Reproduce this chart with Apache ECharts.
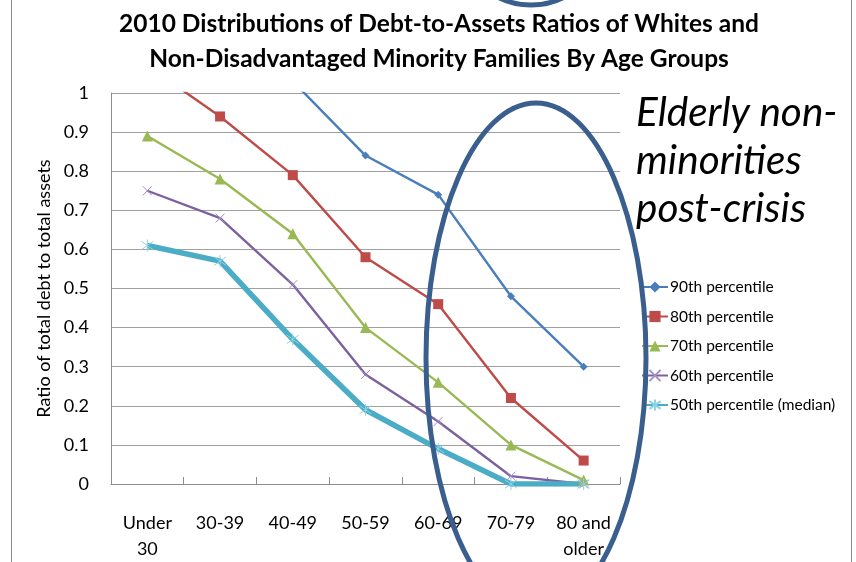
<!DOCTYPE html>
<html>
<head>
<meta charset="utf-8">
<script src="https://cdn.jsdelivr.net/npm/echarts@6/dist/echarts.min.js"></script>
<style>
  html, body { margin: 0; padding: 0; background: #fff; overflow: hidden; }
  #chart { width: 856px; height: 562px; }
</style>
</head>
<body>
<div id="chart"></div>
<script>
// Age groups on the category axis
const ageGroups = ['Under\n30', '30-39', '40-49', '50-59', '60-69', '70-79', '80 and\nolder'];

// Debt-to-assets ratio by percentile (values above 1 run off the top of the plot)
const p90 = [1.30, 1.14, 1.03, 0.84, 0.74, 0.48, 0.30];
const p80 = [1.07, 0.94, 0.79, 0.58, 0.46, 0.22, 0.06];
const p70 = [0.89, 0.78, 0.64, 0.40, 0.26, 0.10, 0.01];
const p60 = [0.75, 0.68, 0.51, 0.28, 0.16, 0.02, 0.00];
const p50 = [0.61, 0.57, 0.37, 0.19, 0.09, 0.00, 0.00];

const seriesNames = ['90th percentile', '80th percentile', '70th percentile', '60th percentile', '50th percentile (median)'];
const yTicks = [0, 0.1, 0.2, 0.3, 0.4, 0.5, 0.6, 0.7, 0.8, 0.9, 1];

const FONT = 'Lato';

// stroked marker shapes
const crossPath = 'path://M0,0L10,10M10,0L0,10';
const starPath = 'path://M5,0L5,10M0,1.5L10,8.5M10,1.5L0,8.5';

function lineSeries(name, data, color, symbol, size, width, markColor, border) {
  return {
    name: name,
    type: 'line',
    data: data,
    clip: true,
    symbol: symbol,
    symbolSize: size,
    showAllSymbol: true,
    lineStyle: { color: color, width: width },
    itemStyle: { color: markColor || color, borderColor: markColor || color, borderWidth: border || 0 },
    emphasis: { disabled: true }
  };
}

const chart = echarts.init(document.getElementById('chart'), null, { renderer: 'canvas' });

chart.setOption({
  animation: false,
  backgroundColor: '#ffffff',
  title: {
    text: '2010 Distributions of Debt-to-Assets Ratios of Whites and\nNon-Disadvantaged Minority Families By Age Groups',
    left: 434,
    top: 2,
    textAlign: 'center',
    textStyle: { fontFamily: FONT, fontWeight: 'bold', fontSize: 24.5, lineHeight: 35, color: '#000' }
  },
  grid: { left: 111, width: 509, top: 93, height: 396, containLabel: false },
  legend: {
    orient: 'vertical',
    left: 636,
    top: 274,
    itemWidth: 26,
    itemHeight: 14,
    itemGap: 13.5,
    textStyle: { fontFamily: FONT, fontSize: 15.5, lineHeight: 14, color: '#000', padding: [0, 0, 0, -3] },
    data: seriesNames
  },
  xAxis: {
    type: 'category',
    data: ageGroups,
    boundaryGap: true,
    axisLine: { lineStyle: { color: '#8c8c8c', width: 1 } },
    axisTick: { show: true, inside: true, length: 7, lineStyle: { color: '#8c8c8c' } },
    axisLabel: { fontFamily: FONT, fontSize: 18, color: '#000', margin: 26, lineHeight: 26, interval: 0 },
    splitLine: { show: false }
  },
  yAxis: {
    type: 'value',
    min: 0,
    max: 1,
    interval: 0.1,
    name: 'Ratio of total debt to total assets',
    nameLocation: 'middle',
    nameGap: 58,
    nameTextStyle: { fontFamily: FONT, fontSize: 18, color: '#000' },
    axisLine: { show: true, lineStyle: { color: '#8c8c8c', width: 1 } },
    axisTick: { show: false },
    axisLabel: {
      fontFamily: FONT, fontSize: 18, color: '#000', margin: 22,
      formatter: function (v) {
        const t = yTicks.find(function (k) { return Math.abs(k - v) < 1e-9; });
        return t === undefined ? '' : String(t);
      }
    },
    splitLine: { show: true, lineStyle: { color: '#a0a0a0', width: 1 } }
  },
  series: [
    lineSeries(seriesNames[0], p90, '#4a7ebb', 'diamond', 8, 2.4),
    lineSeries(seriesNames[1], p80, '#be4b48', 'rect', 10, 2.4),
    lineSeries(seriesNames[2], p70, '#98b954', 'triangle', 11, 2.4),
    lineSeries(seriesNames[3], p60, '#7d60a0', crossPath, 9, 2.4, '#a48fc2', 1),
    lineSeries(seriesNames[4], p50, '#4bacc6', starPath, 12, 5.5, '#8fd3e6', 1)
  ],
  graphic: [
    // outer frame of the chart area
    { type: 'line', shape: { x1: 11.5, y1: 0, x2: 11.5, y2: 562 }, style: { stroke: '#8c8c8c', lineWidth: 1 }, z: 1 },
    { type: 'line', shape: { x1: 851.5, y1: 0, x2: 851.5, y2: 562 }, style: { stroke: '#8c8c8c', lineWidth: 1 }, z: 1 },
    // callout text
    {
      type: 'text', left: 636, top: 89, z: 5,
      style: {
        text: 'Elderly non-\nminorities\npost-crisis',
        font: 'italic 40.5px Lato',
        lineHeight: 48,
        fill: '#000'
      }
    },
    // highlight ellipse around the older age groups
    {
      type: 'ellipse', z: 100,
      shape: { cx: 536, cy: 358, rx: 110, ry: 255 },
      style: { fill: 'none', stroke: '#3a5f8e', lineWidth: 5 }
    },
    // arc of a shape reaching in from above
    {
      type: 'circle', z: 100,
      shape: { cx: 531, cy: -67, r: 72 },
      style: { fill: 'none', stroke: '#3a5f8e', lineWidth: 5 }
    }
  ]
});
</script>
</body>
</html>
